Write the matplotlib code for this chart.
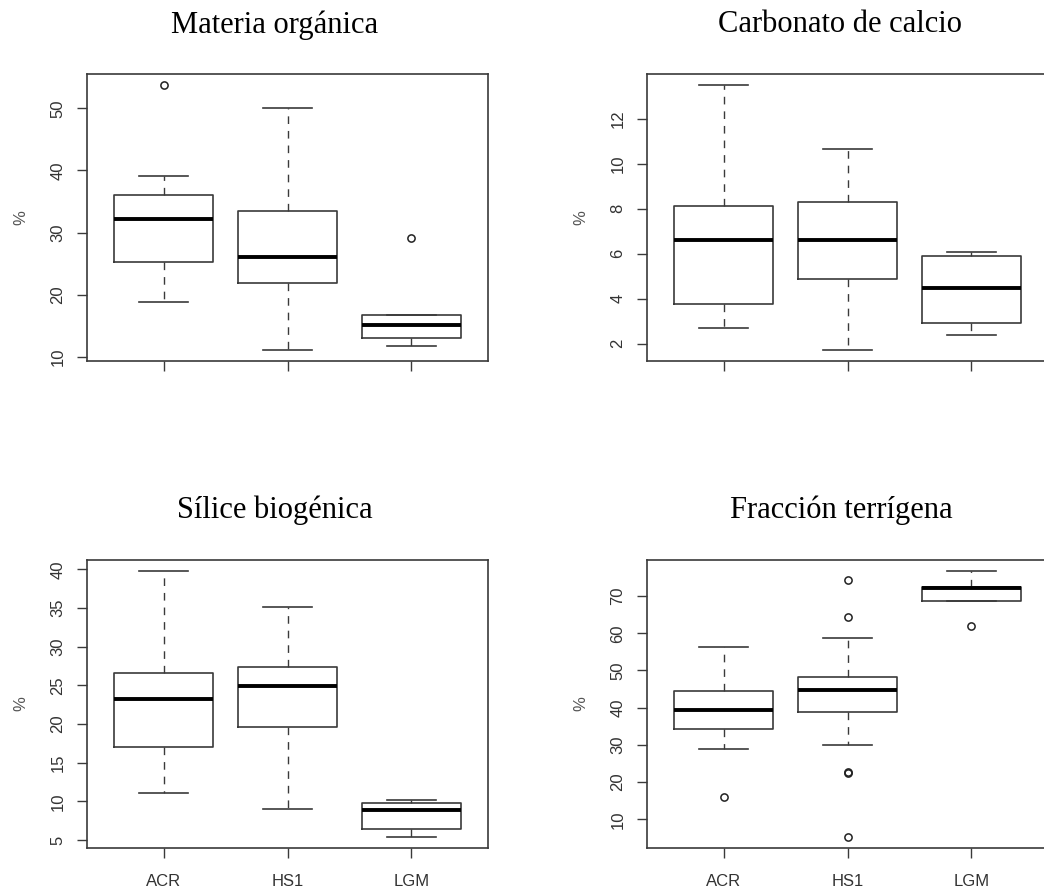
import matplotlib
matplotlib.use("Agg")
import matplotlib.pyplot as plt

groups = ["ACR", "HS1", "LGM"]

# Materia orgánica
mo_q1 = [25.3, 21.9, 13.05]
mo_med = [32.2, 26.1, 15.15]
mo_q3 = [36.06, 33.5, 16.75]
mo_lo = [18.8, 11.07, 11.8]
mo_hi = [39.06, 50.0, 16.8]
mo_out = [[53.8], [], [29.1]]

# Carbonato de calcio
cc_q1 = [3.76, 4.88, 2.93]
cc_med = [6.61, 6.61, 4.48]
cc_q3 = [8.13, 8.29, 5.90]
cc_lo = [2.68, 1.70, 2.37]
cc_hi = [13.51, 10.66, 6.09]
cc_out = [[], [], []]

# Sílice biogénica
sb_q1 = [17.03, 19.58, 6.38]
sb_med = [23.30, 24.95, 8.94]
sb_q3 = [26.64, 27.37, 9.76]
sb_lo = [11.10, 9.07, 5.35]
sb_hi = [39.83, 35.07, 10.24]
sb_out = [[], [], []]

# Fracción terrígena
ft_q1 = [34.29, 38.87, 68.56]
ft_med = [39.50, 44.72, 72.07]
ft_q3 = [44.54, 48.14, 72.43]
ft_lo = [28.89, 30.06, 68.56]
ft_hi = [56.24, 58.84, 76.83]
ft_out = [[15.85], [74.23, 64.42, 22.6, 22.4, 5.14], [62.08]]

titles = ["Materia orgánica", "Carbonato de calcio", "Sílice biogénica", "Fracción terrígena"]
yticks_list = [[10, 20, 30, 40, 50], [2, 4, 6, 8, 10, 12],
               [5, 10, 15, 20, 25, 30, 35, 40], [10, 20, 30, 40, 50, 60, 70]]
show_xlabels = [False, False, True, True]

panels = [
    (mo_q1, mo_med, mo_q3, mo_lo, mo_hi, mo_out),
    (cc_q1, cc_med, cc_q3, cc_lo, cc_hi, cc_out),
    (sb_q1, sb_med, sb_q3, sb_lo, sb_hi, sb_out),
    (ft_q1, ft_med, ft_q3, ft_lo, ft_hi, ft_out),
]

W, H = 1044, 892
fig = plt.figure(figsize=(W / 100, H / 100), dpi=100)

# axes boxes in pixels: left, top, right, bottom
boxes_px = [(87, 74, 488, 361), (647, 74, 1048, 361),
            (87, 560, 488, 848), (647, 560, 1048, 848)]
title_pos = [(275, 25), (840, 25), (275, 510), (841, 510)]

edge = "#3a3a3a"
txt = "#333333"

for i, (q1, med, q3, lo, hi, out) in enumerate(panels):
    l, t, r, b = boxes_px[i]
    ax = fig.add_axes([l / W, 1 - b / H, (r - l) / W, (b - t) / H])
    stats = []
    for j, g in enumerate(groups):
        stats.append(dict(label=g, q1=q1[j], med=med[j], q3=q3[j],
                          whislo=lo[j], whishi=hi[j], fliers=out[j]))
    ax.bxp(stats, positions=[1, 2, 3], widths=0.8, showfliers=True,
           boxprops=dict(color=edge, linewidth=1.2),
           medianprops=dict(color="black", linewidth=2.8, solid_capstyle="butt"),
           whiskerprops=dict(color=edge, linewidth=1.0, linestyle=(0, (5.5, 5))),
           capprops=dict(color=edge, linewidth=1.2),
           capwidths=0.4,
           flierprops=dict(marker="o", markersize=5.2, markerfacecolor="none",
                           markeredgecolor="#222222", markeredgewidth=1.1))
    # R-style limits (4% padding)
    allv = lo + hi + [v for o in out for v in o]
    vmin, vmax = min(allv), max(allv)
    pad = 0.04 * (vmax - vmin)
    ax.set_ylim(vmin - pad, vmax + pad)
    ax.set_xlim(0.38, 3.62)
    ax.set_yticks(yticks_list[i])
    ax.set_yticklabels([str(v) for v in yticks_list[i]], rotation=90, va="center",
                       fontsize=12, color=txt, family="Liberation Sans")
    ax.set_xticks([1, 2, 3])
    if show_xlabels[i]:
        ax.set_xticklabels(groups, fontsize=12, color=txt, family="Liberation Sans")
    else:
        ax.set_xticklabels(["", "", ""])
    ax.tick_params(axis="both", length=7.5, width=1.0, color=edge, direction="out")
    ax.tick_params(axis="x", pad=11)
    ax.tick_params(axis="y", pad=8)
    for s in ax.spines.values():
        s.set_color(edge)
        s.set_linewidth(1.2)
    ax.set_ylabel("%", fontsize=12, color="#555555", family="Liberation Sans", labelpad=16)
    tx, ty = title_pos[i]
    fig.text(tx / W, 1 - ty / H, titles[i], ha="center", va="center",
             fontsize=22, family="Liberation Serif", color="black")

fig.savefig("out.png", dpi=100)
